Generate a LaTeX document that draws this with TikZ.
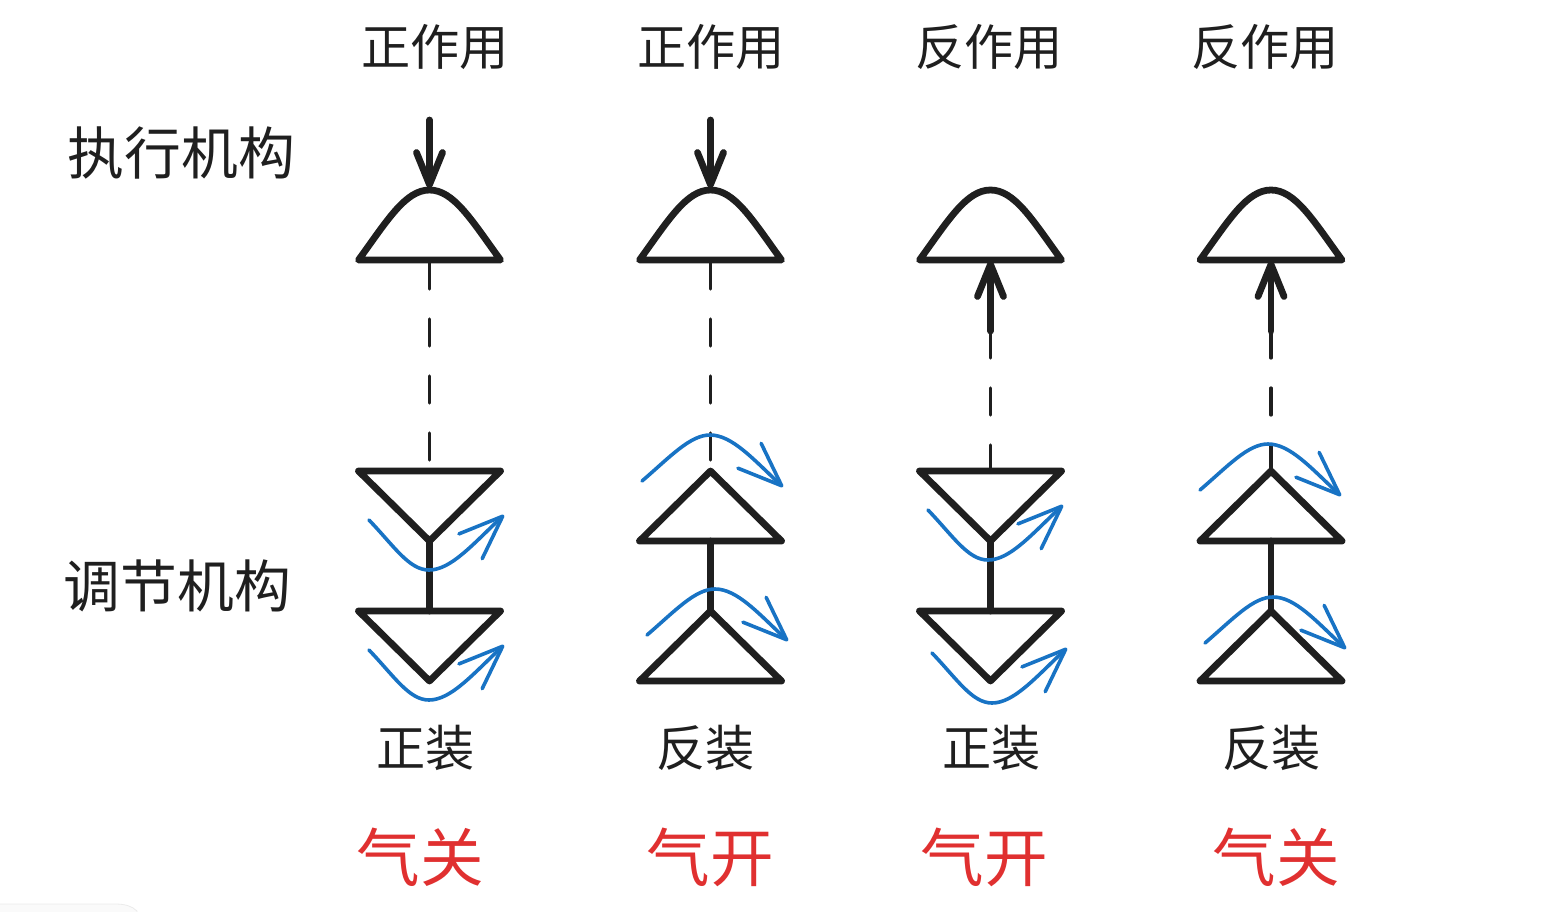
\documentclass[tikz,border=0pt]{standalone}
\usepackage{fontspec}
\setmainfont{Noto Sans CJK SC}
\usetikzlibrary{positioning,arrows.meta}
\definecolor{inkblack}{HTML}{1F1F1F}
\definecolor{flowblue}{HTML}{1873C4}
\definecolor{airred}{HTML}{E03030}
\tikzset{
    head/.style={font=\fontsize{24.6pt}{24.6pt}\selectfont,text=inkblack,inner sep=0pt},
    side/.style={font=\fontsize{28.4pt}{28.4pt}\selectfont,text=inkblack,inner sep=0pt},
    air/.style={font=\fontsize{31.8pt}{31.8pt}\selectfont,text=airred,inner sep=0pt},
    body/.style={draw=inkblack,line width=3.4pt,line join=round,line cap=round},
    link/.style={draw=inkblack,line width=1.6pt,line cap=round,dash pattern=on 13.5pt off 15pt},
    push/.style={body,-{Straight Barb[length=16pt,width=13pt,round]}},
    flow/.style={draw=flowblue,line width=1.8pt,line cap=round,-{Straight Barb[length=22pt,width=17pt,round]}},
    pics/dome/.style={code={\draw[body] (-71,0) .. controls (-42,-40) and (-24,-70) .. (0,-70) .. controls (24,-70) and (42,-40) .. (71,0) -- cycle;}},
    pics/tridown/.style={code={\draw[body] (-71,0) -- (71,0) -- (0,70) -- cycle;}},
    pics/triup/.style={code={\draw[body] (-71,0) -- (71,0) -- (0,-70) -- cycle;}},
    pics/flowdown/.style={code={\draw[flow] (-60,-50) .. controls (-35,-24) and (-20,0) .. (0,0) .. controls (22,0) and (44,-26) .. (75,-55);}},
    pics/flowup/.style={code={\draw[flow] (-68,46) .. controls (-40,22) and (-20,0) .. (0,0) .. controls (22,0) and (43,24) .. (73,52);}},
}
\begin{document}
\begin{tikzpicture}[x=0.5pt,y=-0.5pt,on grid]
    \useasboundingbox (0,0) rectangle (1557,911);
    \filldraw[draw=black!8,fill=black!2] (-5,916) -- (-5,904) -- (115,904) .. controls (125,904) and (132,906) .. (137,911) -- (137,916) -- cycle;

    \node[head] (h1) at (435,47.5) {正作用};
    \node[head,right=138pt of h1] (h2) {正作用};
    \node[head,right=139pt of h2] (h3) {反作用};
    \node[head,right=138pt of h3] (h4) {反作用};
    \node[side] (l1) at (181.5,153) {执行机构};
    \node[side] (l2) at (177.5,586) {调节机构};
    \node[head] (s1) at (425.5,747.5) {正装};
    \node[head,right=140pt of s1] (s2) {反装};
    \node[head,right=143pt of s2] (s3) {正装};
    \node[head,right=140pt of s3] (s4) {反装};
    \node[air] (q1) at (420,857) {气关};
    \node[air,right=145pt of q1] (q2) {气开};
    \node[air,right=137pt of q2] (q3) {气开};
    \node[air,right=146pt of q3] (q4) {气关};

    \coordinate (a1) at (429.5,120);
    \coordinate (b1) at (429.5,188);
    \coordinate (c1) at (429.5,262);
    \coordinate (d1) at (429.5,466);
    \coordinate (e1) at (429.5,540);
    \coordinate (f1) at (429.5,611);
    \coordinate (a2) at (710.5,120);
    \coordinate (b2) at (710.5,188);
    \coordinate (c2) at (710.5,262);
    \coordinate (d2) at (710.5,466);
    \coordinate (e2) at (710.5,541);
    \coordinate (f2) at (710.5,611);
    \coordinate (a3) at (990.5,331);
    \coordinate (b3) at (990.5,261);
    \coordinate (d3) at (990.5,470);
    \coordinate (e3) at (990.5,540);
    \coordinate (f3) at (990.5,611);
    \coordinate (a4) at (1271,331);
    \coordinate (b4) at (1271,261);
    \coordinate (d4) at (1271,470);
    \coordinate (e4) at (1271,541);
    \coordinate (f4) at (1271,611);

    \draw[link] (c1) -- (d1);
    \draw[link] (c2) -- (d2);
    \draw[link] (a3) -- (d3);
    \draw[link] (a4) -- (d4);
    \draw[push] (a1) -- (b1);
    \draw[push] (a2) -- (b2);
    \draw[push] (a3) -- (b3);
    \draw[push] (a4) -- (b4);
    \draw[body] (e1) -- (f1);
    \draw[body] (e2) -- (f2);
    \draw[body] (e3) -- (f3);
    \draw[body] (e4) -- (f4);

    \pic at (429.5,260) {dome};
    \pic at (710.5,260) {dome};
    \pic at (990.5,260) {dome};
    \pic at (1271,260) {dome};
    \pic at (429.5,471) {tridown};
    \pic at (429.5,611) {tridown};
    \pic at (710.5,541) {triup};
    \pic at (710.5,681) {triup};
    \pic at (990.5,471) {tridown};
    \pic at (990.5,611) {tridown};
    \pic at (1271,541) {triup};
    \pic at (1271,681) {triup};

    \pic at (429,570) {flowdown};
    \pic at (429,700) {flowdown};
    \pic at (710,435) {flowup};
    \pic at (715,589) {flowup};
    \pic at (988,560) {flowdown};
    \pic at (992,703) {flowdown};
    \pic at (1268,444) {flowup};
    \pic at (1273,597) {flowup};
\end{tikzpicture}
\end{document}
